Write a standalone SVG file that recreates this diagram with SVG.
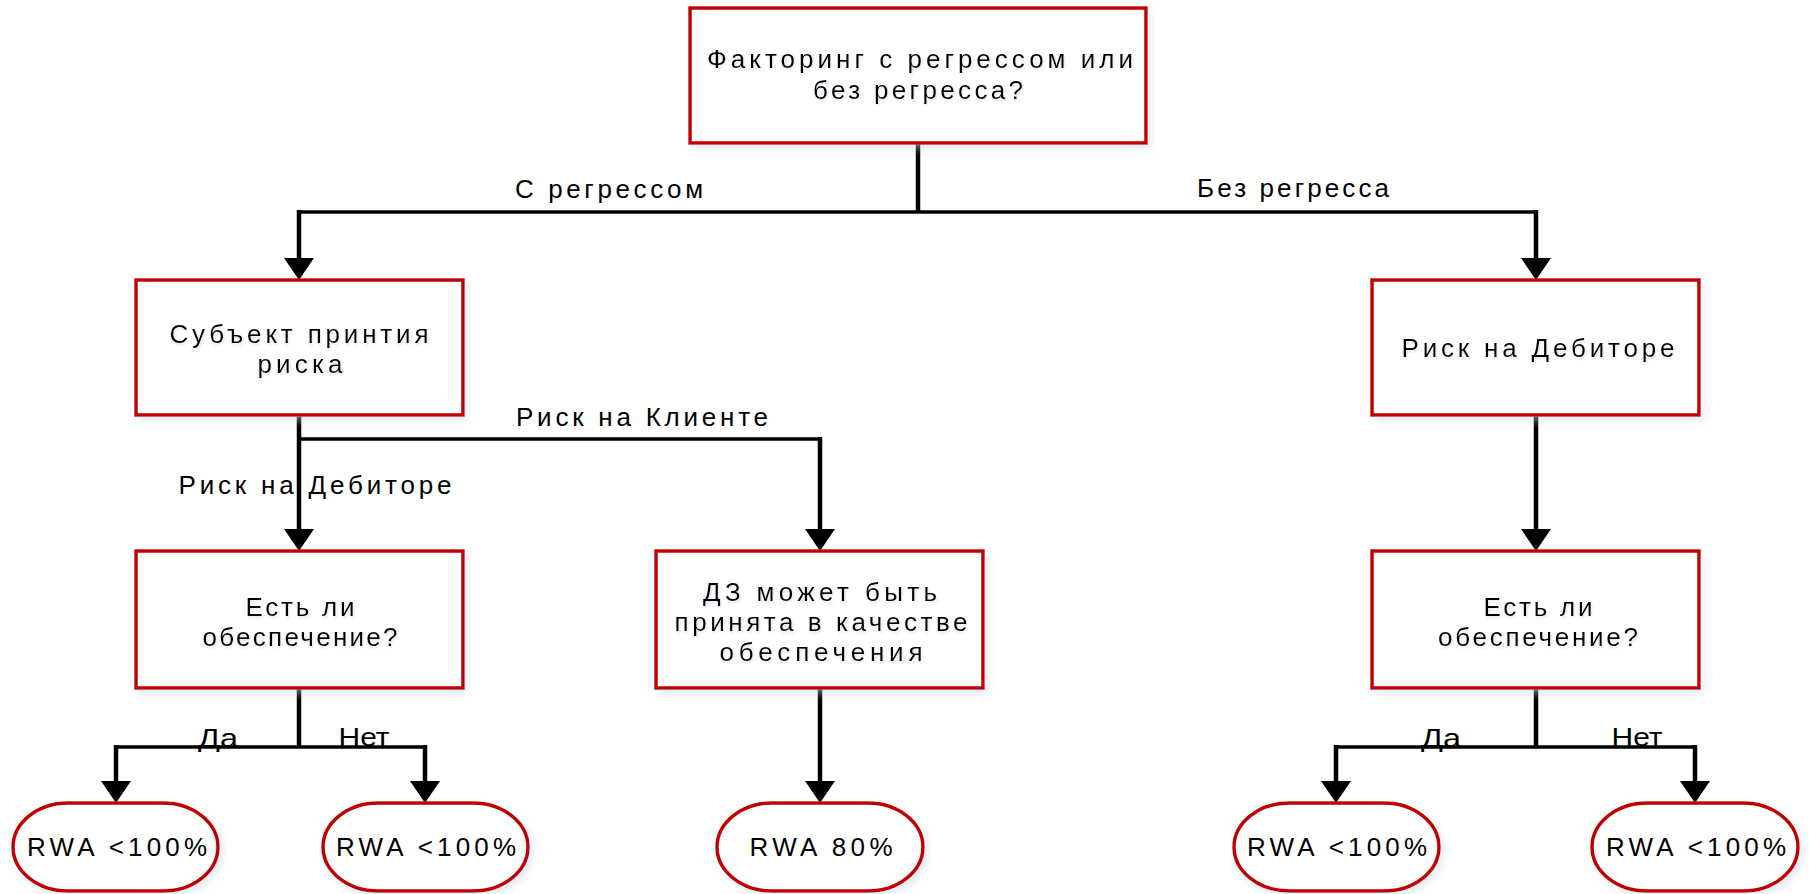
<svg xmlns="http://www.w3.org/2000/svg" width="1809" height="894" viewBox="0 0 1809 894">
<defs>
<filter id="sh" x="-10%" y="-10%" width="125%" height="130%">
<feDropShadow dx="3" dy="4" stdDeviation="4" flood-color="#c9d5e6" flood-opacity="0.55"/>
</filter>
<filter id="tsh" x="-5%" y="-30%" width="110%" height="170%">
<feDropShadow dx="1" dy="2" stdDeviation="1.6" flood-color="#9fb0c8" flood-opacity="0.35"/>
</filter>
<marker id="arr" viewBox="0 0 22 30" refX="0" refY="15" markerWidth="22" markerHeight="30" markerUnits="userSpaceOnUse" orient="auto">
<path d="M0,0 L22,15 L0,30 Z" fill="#000"/>
</marker>
</defs>
<style>
.box{fill:#fff;stroke:#c00000;stroke-width:3.5;filter:url(#sh)}
.t{font-family:"Liberation Sans",Arial,sans-serif;font-size:26px;fill:#000;text-anchor:middle}
.nt{filter:url(#tsh)}
.v{stroke:#000;stroke-width:4.5;fill:none}
.h{stroke:#000;stroke-width:3.5;fill:none}
</style>
<rect width="1809" height="894" fill="#fff"/>

<g id="connectors">
<line class="v" x1="918" y1="143" x2="918" y2="212"/>
<line class="h" x1="297" y1="212" x2="1538" y2="212"/>
<line class="v" x1="299" y1="210" x2="299" y2="258" marker-end="url(#arr)"/>
<line class="v" x1="1536" y1="210" x2="1536" y2="258" marker-end="url(#arr)"/>
<line class="v" x1="299" y1="415" x2="299" y2="529" marker-end="url(#arr)"/>
<line class="h" x1="299" y1="439" x2="822" y2="439"/>
<line class="v" x1="820" y1="437" x2="820" y2="529" marker-end="url(#arr)"/>
<line class="v" x1="1536" y1="415" x2="1536" y2="529" marker-end="url(#arr)"/>
<line class="v" x1="299" y1="688" x2="299" y2="747"/>
<line class="h" x1="114" y1="747" x2="427" y2="747"/>
<line class="v" x1="116" y1="745" x2="116" y2="781" marker-end="url(#arr)"/>
<line class="v" x1="425" y1="745" x2="425" y2="781" marker-end="url(#arr)"/>
<line class="v" x1="820" y1="688" x2="820" y2="781" marker-end="url(#arr)"/>
<line class="v" x1="1536" y1="688" x2="1536" y2="747"/>
<line class="h" x1="1334" y1="747" x2="1697" y2="747"/>
<line class="v" x1="1336" y1="745" x2="1336" y2="781" marker-end="url(#arr)"/>
<line class="v" x1="1695" y1="745" x2="1695" y2="781" marker-end="url(#arr)"/>
</g>

<g id="labels">
<text class="t" x="609" y="198" textLength="188" lengthAdjust="spacing">С регрессом</text>
<text class="t" x="1293" y="197" textLength="192" lengthAdjust="spacing">Без регресса</text>
<text class="t" x="642" y="426" textLength="252" lengthAdjust="spacing">Риск на Клиенте</text>
<text class="t" x="315" y="494" textLength="273" lengthAdjust="spacing">Риск на Дебиторе</text>
<text class="t" x="218" y="747" textLength="40" lengthAdjust="spacingAndGlyphs">Да</text>
<text class="t" x="364" y="746" textLength="51" lengthAdjust="spacingAndGlyphs">Нет</text>
<text class="t" x="1441" y="747" textLength="40" lengthAdjust="spacingAndGlyphs">Да</text>
<text class="t" x="1637" y="746" textLength="51" lengthAdjust="spacingAndGlyphs">Нет</text>
</g>

<g id="n-top">
<rect class="box" x="690" y="8" width="456" height="135"/>
<text class="t nt" x="920" y="68" textLength="426" lengthAdjust="spacing">Факторинг с регрессом или</text>
<text class="t nt" x="918" y="99" textLength="210" lengthAdjust="spacing">без регресса?</text>
</g>

<g id="n-subject">
<rect class="box" x="136" y="280" width="327" height="135"/>
<text class="t nt" x="299" y="343" textLength="259" lengthAdjust="spacing">Субъект принтия</text>
<text class="t nt" x="300" y="373" textLength="85" lengthAdjust="spacing">риска</text>
</g>

<g id="n-debtor">
<rect class="box" x="1372" y="280" width="327" height="135"/>
<text class="t nt" x="1538" y="357" textLength="273" lengthAdjust="spacing">Риск на Дебиторе</text>
</g>

<g id="n-collateral-left">
<rect class="box" x="136" y="551" width="327" height="137"/>
<text class="t nt" x="300" y="616" textLength="109" lengthAdjust="spacing">Есть ли</text>
<text class="t nt" x="300" y="646" textLength="195" lengthAdjust="spacing">обеспечение?</text>
</g>

<g id="n-receivable">
<rect class="box" x="656" y="551" width="327" height="137"/>
<text class="t nt" x="820" y="601" textLength="234" lengthAdjust="spacing">ДЗ может быть</text>
<text class="t nt" x="821" y="631" textLength="293" lengthAdjust="spacing">принята в качестве</text>
<text class="t nt" x="821" y="661" textLength="203" lengthAdjust="spacing">обеспечения</text>
</g>

<g id="n-collateral-right">
<rect class="box" x="1372" y="551" width="327" height="137"/>
<text class="t nt" x="1538" y="616" textLength="109" lengthAdjust="spacing">Есть ли</text>
<text class="t nt" x="1538" y="646" textLength="200" lengthAdjust="spacing">обеспечение?</text>
</g>

<g id="r1">
<rect class="box" x="13" y="803" width="205" height="88" rx="55" ry="44"/>
<text class="t" x="117" y="856" textLength="180" lengthAdjust="spacing">RWA &lt;100%</text>
</g>
<g id="r2">
<rect class="box" x="323" y="803" width="205" height="88" rx="55" ry="44"/>
<text class="t" x="426" y="856" textLength="180" lengthAdjust="spacing">RWA &lt;100%</text>
</g>
<g id="r3">
<rect class="box" x="717" y="803" width="206" height="88" rx="55" ry="44"/>
<text class="t" x="821" y="856" textLength="143" lengthAdjust="spacing">RWA 80%</text>
</g>
<g id="r4">
<rect class="box" x="1234" y="803" width="205" height="88" rx="55" ry="44"/>
<text class="t" x="1337" y="856" textLength="180" lengthAdjust="spacing">RWA &lt;100%</text>
</g>
<g id="r5">
<rect class="box" x="1592" y="803" width="206" height="88" rx="55" ry="44"/>
<text class="t" x="1696" y="856" textLength="180" lengthAdjust="spacing">RWA &lt;100%</text>
</g>
</svg>
